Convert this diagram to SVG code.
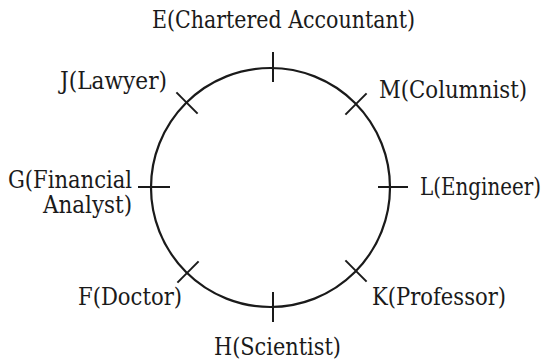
<svg xmlns="http://www.w3.org/2000/svg" width="549" height="364" viewBox="0 0 549 364">
<style>
.c{fill:none;stroke:#1a1a1a;stroke-width:2.2}
.t{stroke:#1a1a1a;stroke-width:2}
.l{font-family:'DejaVu Serif','Liberation Serif',serif;font-stretch:condensed;font-size:24px;fill:#1a1a1a}
</style>
<rect width="549" height="364" fill="#fff"/>
<g id="table">
<circle class="c" cx="270.5" cy="187.5" r="119.5"/>
</g>
<g id="ticks">
<line class="t" x1="273" y1="52" x2="273" y2="82"/>
<line class="t" x1="273" y1="292" x2="273" y2="322"/>
<line class="t" x1="138" y1="187" x2="170" y2="187"/>
<line class="t" x1="378" y1="187" x2="408" y2="187"/>
<line class="t" x1="176.4" y1="92.4" x2="197.6" y2="113.6"/>
<line class="t" x1="345.4" y1="114.6" x2="366.6" y2="93.4"/>
<line class="t" x1="177.4" y1="282.6" x2="198.6" y2="261.4"/>
<line class="t" x1="345.4" y1="260.4" x2="366.6" y2="281.6"/>
</g>
<g id="E"><text class="l" x="152" y="28" textLength="263" lengthAdjust="spacingAndGlyphs">E(Chartered Accountant)</text></g>
<g id="M"><text class="l" x="379" y="98" textLength="148" lengthAdjust="spacingAndGlyphs">M(Columnist)</text></g>
<g id="J"><text class="l" x="60" y="89" textLength="107" lengthAdjust="spacingAndGlyphs">J(Lawyer)</text></g>
<g id="G"><text class="l" x="8" y="188" textLength="124" lengthAdjust="spacingAndGlyphs">G(Financial</text><text class="l" x="43" y="213" textLength="89" lengthAdjust="spacingAndGlyphs">Analyst)</text></g>
<g id="L"><text class="l" x="420" y="195" textLength="121" lengthAdjust="spacingAndGlyphs">L(Engineer)</text></g>
<g id="F"><text class="l" x="78" y="305" textLength="104" lengthAdjust="spacingAndGlyphs">F(Doctor)</text></g>
<g id="K"><text class="l" x="372" y="305" textLength="134" lengthAdjust="spacingAndGlyphs">K(Professor)</text></g>
<g id="H"><text class="l" x="214" y="355" textLength="127" lengthAdjust="spacingAndGlyphs">H(Scientist)</text></g>
</svg>
